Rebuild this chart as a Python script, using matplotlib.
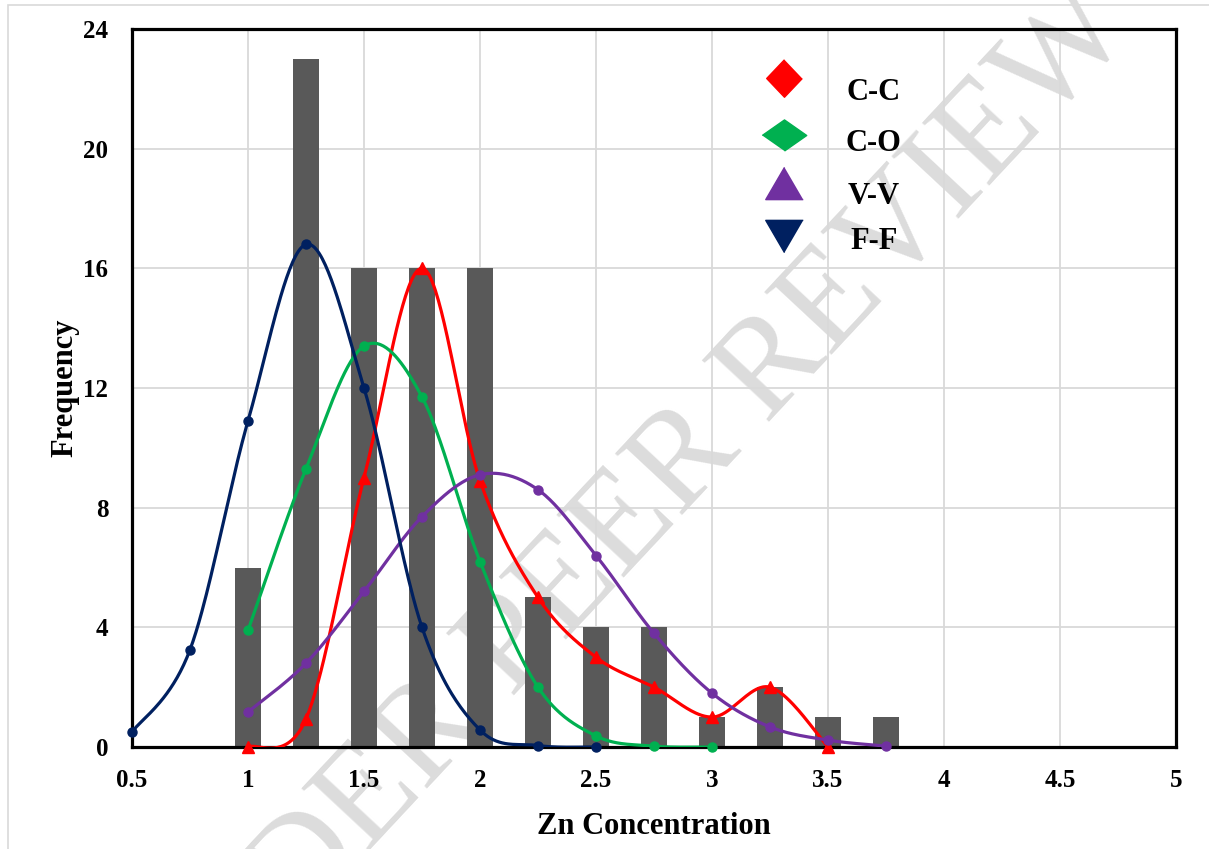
import numpy as np
import matplotlib
matplotlib.use("Agg")
import matplotlib.pyplot as plt
from matplotlib.patches import Rectangle

# histogram bars
bar_x = [1.0, 1.25, 1.5, 1.75, 2.0, 2.25, 2.5, 2.75, 3.0, 3.25, 3.5, 3.75]
bar_counts = [6, 23, 16, 16, 16, 5, 4, 4, 1, 2, 1, 1]

# fitted curves
cc_x = [1.0, 1.25, 1.5, 1.75, 2.0, 2.25, 2.5, 2.75, 3.0, 3.25, 3.5]
cc_y = [0.0, 0.94, 9.0, 16.0, 8.9, 5.0, 3.0, 2.0, 1.0, 2.0, 0.0]

co_x = [1.0, 1.25, 1.5, 1.75, 2.0, 2.25, 2.5, 2.75, 3.0]
co_y = [3.9, 9.3, 13.4, 11.7, 6.2, 2.0, 0.37, 0.03, 0.0]

vv_x = [1.0, 1.25, 1.5, 1.75, 2.0, 2.25, 2.5, 2.75, 3.0, 3.25, 3.5, 3.75]
vv_y = [1.17, 2.8, 5.2, 7.7, 9.1, 8.6, 6.4, 3.8, 1.8, 0.67, 0.23, 0.03]

ff_x = [0.5, 0.75, 1.0, 1.25, 1.5, 1.75, 2.0, 2.25, 2.5]
ff_y = [0.5, 3.25, 10.9, 16.8, 12.0, 4.0, 0.57, 0.05, 0.0]

labels = ["C-C", "C-O", "V-V", "F-F"]
colors = ["#FF0000", "#00B050", "#7030A0", "#002060"]

x_ticks = [0.5, 1, 1.5, 2, 2.5, 3, 3.5, 4, 4.5, 5]
y_ticks = [0, 4, 8, 12, 16, 20, 24]

FONT = "Liberation Serif"


def smooth(xs, ys, n=40):
    # Catmull-Rom style bezier, like the "smoothed line" option in Excel
    pts = np.column_stack([xs, ys]).astype(float)
    p = np.vstack([pts[0], pts, pts[-1]])
    t = np.linspace(0, 1, n)[:, None]
    out = []
    for i in range(1, len(p) - 2):
        p0, p1, p2, p3 = p[i - 1], p[i], p[i + 1], p[i + 2]
        c1 = p1 + (p2 - p0) / 6
        c2 = p2 - (p3 - p1) / 6
        seg = ((1 - t) ** 3) * p1 + 3 * ((1 - t) ** 2) * t * c1 \
            + 3 * (1 - t) * (t ** 2) * c2 + (t ** 3) * p2
        out.append(seg)
    curve = np.vstack(out)
    return curve[:, 0], curve[:, 1]


fig = plt.figure(figsize=(12.09, 8.49), dpi=100)

# faint page border and watermark behind the chart
fig.patches.append(Rectangle((8 / 1209, -0.1), 1.2, 1.1 - 5 / 849,
                             transform=fig.transFigure, fill=False,
                             edgecolor="#d9d9d9", linewidth=1.2, zorder=-2))
fig.text(0.516, 0.377, "UNDER PEER REVIEW", rotation=47, rotation_mode="anchor",
         ha="center", va="center", fontsize=100, family=FONT,
         color="#dcdcdc", zorder=-1)

ax = fig.add_axes([132 / 1209, 1 - 747 / 849, 1044 / 1209, 718 / 849])
ax.patch.set_visible(False)

ax.bar(bar_x, bar_counts, width=0.115, color="#595959", zorder=2)

series = [(cc_x, cc_y), (co_x, co_y), (vv_x, vv_y), (ff_x, ff_y)]
for i, (xs, ys) in enumerate(series):
    sx, sy = smooth(xs, ys)
    ax.plot(sx, sy, color=colors[i], linewidth=2.3, zorder=4)
    if i == 0:
        ax.plot(xs, ys, linestyle="none", marker="^", markersize=8,
                color=colors[i], zorder=4, clip_on=False)
    else:
        ax.plot(xs, ys, linestyle="none", marker="o", markersize=6.5,
                color=colors[i], zorder=4, clip_on=False)

ax.set_xlim(0.5, 5)
ax.set_ylim(0, 24)
ax.set_xticks(x_ticks)
ax.set_xticklabels([f"{v:g}" for v in x_ticks])
ax.set_yticks(y_ticks)
ax.grid(True, color="#d9d9d9", linewidth=1.3)
ax.set_axisbelow(True)
ax.tick_params(length=0)
ax.tick_params(axis="x", pad=16)
ax.tick_params(axis="y", pad=17)
for lab in ax.get_xticklabels() + ax.get_yticklabels():
    lab.set_fontfamily(FONT)
    lab.set_fontweight("bold")
    lab.set_fontsize(18)

for side in ["left", "right", "top", "bottom"]:
    ax.spines[side].set_linewidth(2.3)
    ax.spines[side].set_color("black")
    ax.spines[side].set_zorder(3)

ax.set_xlabel("Zn Concentration", family=FONT, fontweight="bold",
              fontsize=22, labelpad=14)
ax.set_ylabel("Frequency", family=FONT, fontweight="bold",
              fontsize=22, labelpad=3)

# legend, placed by hand to follow the original layout
leg_markers = [
    [(0, 1), (-0.95, 0), (0, -1), (0.95, 0)],
    [(-1, 0), (0, 0.7), (1, 0), (0, -0.7)],
    [(0, 0.86), (-1, -0.86), (1, -0.86)],
    [(0, -0.86), (-1, 0.86), (1, 0.86)],
]
leg_sizes = [27, 32, 27, 27]
marker_y = [0.932, 0.852, 0.786, 0.712]
text_y = [0.912, 0.840, 0.767, 0.704]
text_x = [0.684, 0.683, 0.685, 0.688]
for i in range(4):
    ax.plot([0.6245], [marker_y[i]], transform=ax.transAxes, linestyle="none",
            marker=leg_markers[i], markersize=leg_sizes[i], color=colors[i],
            zorder=6, clip_on=False)
    ax.text(text_x[i], text_y[i], labels[i], transform=ax.transAxes,
            family=FONT, fontweight="bold", fontsize=22, va="center",
            ha="left", zorder=6)

fig.savefig("out.png", dpi=100)
